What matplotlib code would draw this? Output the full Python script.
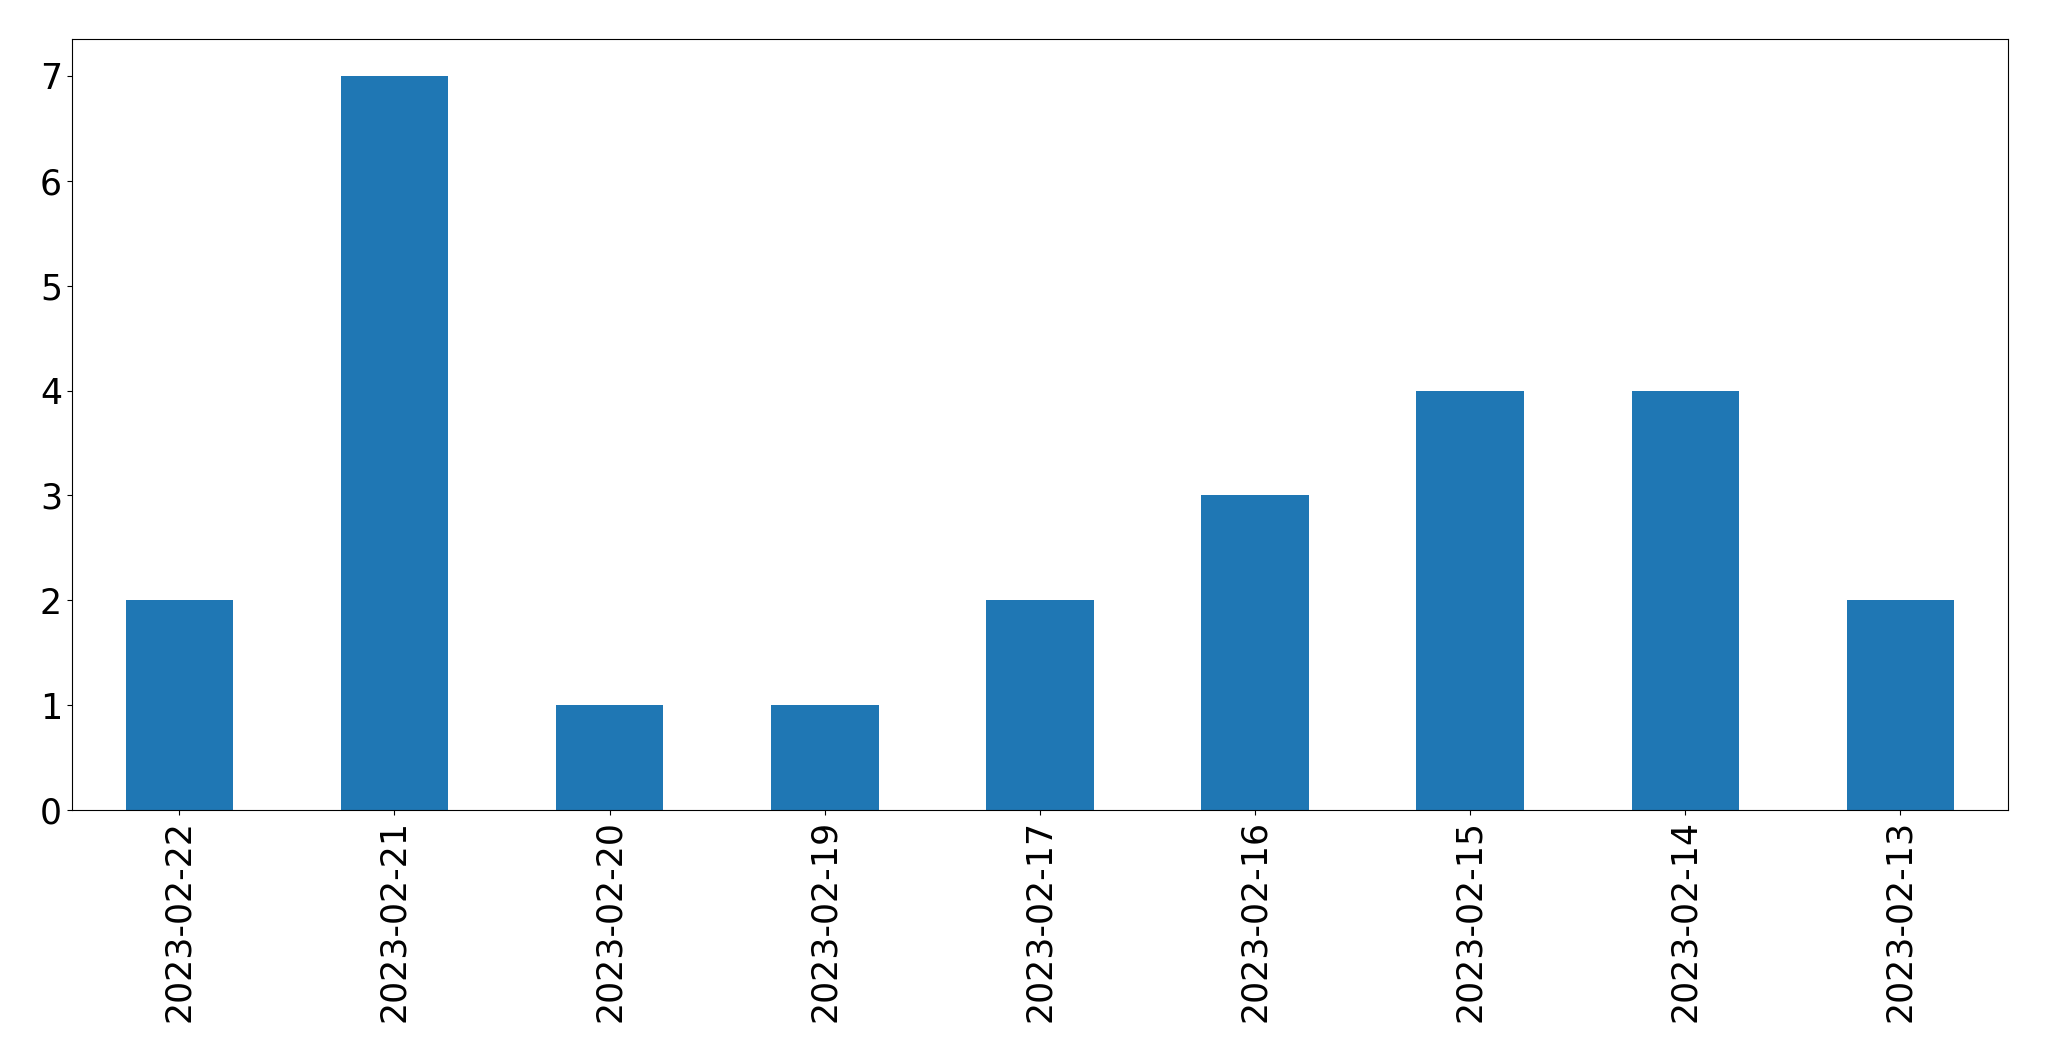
import matplotlib
matplotlib.use('Agg')
import matplotlib.pyplot as plt
import numpy as np

dates = ['2023-02-22', '2023-02-21', '2023-02-20', '2023-02-19', '2023-02-17',
         '2023-02-16', '2023-02-15', '2023-02-14', '2023-02-13']
counts = [2, 7, 1, 1, 2, 3, 4, 4, 2]

fig = plt.figure(figsize=(20.49, 10.61), dpi=100)
ax = fig.add_axes([0.035, 0.2365, 0.945, 0.7265])
x = np.arange(len(dates))
ax.bar(x, counts, width=0.5, color='#1f77b4')
ax.set_xlim(-0.5, len(dates) - 0.5)
ax.set_xticks(x)
ax.set_xticklabels(dates, rotation=90, fontsize=25)
ax.tick_params(axis='y', labelsize=25)
ax.set_ylim(0, 7.35)
fig.savefig('out.png', dpi=100)
